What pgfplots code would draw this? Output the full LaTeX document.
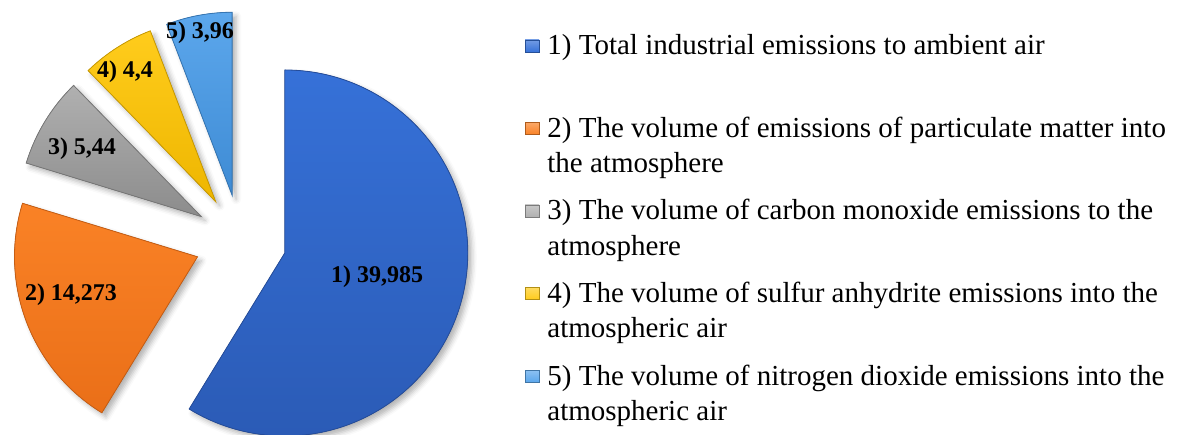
\documentclass[border=0pt]{standalone}
\usepackage{pgfplots}
\pgfplotsset{compat=1.18}
\usepackage{pgfplotstable}
\usepackage{fontspec}
\setmainfont{Liberation Serif}
\usetikzlibrary{calc,shadows.blur}

\definecolor{bA}{HTML}{3671D8}\definecolor{bAd}{HTML}{2B5BB6}
\definecolor{oA}{HTML}{FA8226}\definecolor{oAd}{HTML}{EA6F18}
\definecolor{gA}{HTML}{B0B0B0}\definecolor{gAd}{HTML}{8C8C8C}
\definecolor{yA}{HTML}{FFCC1C}\definecolor{yAd}{HTML}{EEB600}
\definecolor{lA}{HTML}{5CA7EC}\definecolor{lAd}{HTML}{3E8BD4}

\pgfplotstableread{
v
39.985
14.273
5.44
4.4
3.96
}\piedata

\newcommand\slice[4]{%
  \fill[top color=#3, bottom color=#4, draw=#4!85!black, line width=0.4pt,
        blur shadow={shadow xshift=2pt, shadow yshift=-2pt, shadow blur radius=2.5pt, shadow opacity=30}]
   ($(axis cs:240.5,193.5)+({(#1+#2)/2}:23pt)$) -- ++(#1:91.5pt)
   arc[start angle=#1, end angle=#2, radius=91.5pt] -- cycle;}

\newcommand\legkey[3]{%
  \node[inner sep=0pt, minimum width=7pt, minimum height=6pt, top color=#2!70!white, bottom color=#2,
        draw=#2!70!black, line width=0.3pt] at (axis cs:532,#1) {};}

\begin{document}
\pgfplotstablegetelem{0}{v}\of\piedata \edef\vA{\pgfplotsretval}%
\pgfplotstablegetelem{1}{v}\of\piedata \edef\vB{\pgfplotsretval}%
\pgfplotstablegetelem{2}{v}\of\piedata \edef\vC{\pgfplotsretval}%
\pgfplotstablegetelem{3}{v}\of\piedata \edef\vD{\pgfplotsretval}%
\pgfplotstablegetelem{4}{v}\of\piedata \edef\vE{\pgfplotsretval}%
\pgfmathsetmacro\tot{\vA+\vB+\vC+\vD+\vE}%
\pgfmathsetmacro\aA{90}%
\pgfmathsetmacro\aB{\aA-360*\vA/\tot}%
\pgfmathsetmacro\aC{\aB-360*\vB/\tot}%
\pgfmathsetmacro\aD{\aC-360*\vC/\tot}%
\pgfmathsetmacro\aE{\aD-360*\vD/\tot}%
\pgfmathsetmacro\aF{\aE-360*\vE/\tot}%
\begin{tikzpicture}
\begin{axis}[x=0.5pt, y=0.5pt, xmin=0, xmax=1181, ymin=0, ymax=434,
  hide axis, clip=false]
\coordinate (ll) at (axis cs:0,0);
\coordinate (ur) at (axis cs:1181,434);
\slice{\aA}{\aB}{bA}{bAd}
\slice{\aB}{\aC}{oA}{oAd}
\slice{\aC}{\aD}{gA}{gAd}
\slice{\aD}{\aE}{yA}{yAd}
\slice{\aE}{\aF}{lA}{lAd}
\begin{scope}[every node/.style={font=\bfseries\fontsize{12pt}{14pt}\selectfont, inner sep=0pt}]
\node at (axis cs:377,157) {1) 39,985};
\node at (axis cs:71,139) {2) 14,273};
\node at (axis cs:82,285) {3) 5,44};
\node at (axis cs:125,362) {4) 4,4};
\node at (axis cs:200,401) {5) 3,96};
\end{scope}
\legkey{388}{bA}{}
\legkey{305.5}{oA}{}
\legkey{223}{gA}{}
\legkey{140.5}{yA}{}
\legkey{58}{lA}{}
\begin{scope}[every node/.style={font=\fontsize{14.5pt}{17.5pt}\selectfont, inner sep=0pt, anchor=base west}]
\node at (axis cs:547,379) {1) Total industrial emissions to ambient air};
\node at (axis cs:547,296.5) {2) The volume of emissions of particulate matter into};
\node at (axis cs:547,261.5) {the atmosphere};
\node at (axis cs:547,214) {3) The volume of carbon monoxide emissions to the};
\node at (axis cs:547,179) {atmosphere};
\node at (axis cs:547,131.5) {4) The volume of sulfur anhydrite emissions into the};
\node at (axis cs:547,96.5) {atmospheric air};
\node at (axis cs:547,49) {5) The volume of nitrogen dioxide emissions into the};
\node at (axis cs:547,14) {atmospheric air};
\end{scope}
\end{axis}
\pgfresetboundingbox
\path[use as bounding box] (ll) rectangle (ur);
\end{tikzpicture}
\end{document}
